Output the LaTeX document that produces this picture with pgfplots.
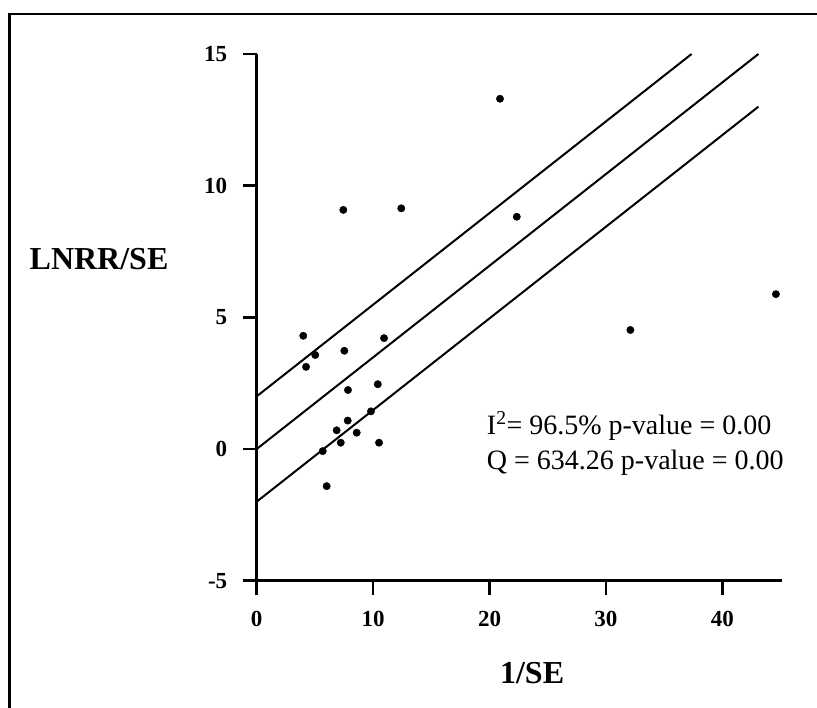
\documentclass[border=0pt]{standalone}
\usepackage{fontspec}
\setmainfont{Liberation Serif}
\usepackage{pgfplots}
\pgfplotsset{compat=1.18}
\begin{document}
\begin{tikzpicture}[x=1pt,y=1pt]
\useasboundingbox (0,0) rectangle (817,708);
\draw[line width=2.8pt] (9.7,0) -- (9.7,694) -- (817,694);
\begin{axis}[
 at={(256.7pt,127.3pt)}, anchor=south west,
 scale only axis, width=525.6pt, height=526.7pt,
 xmin=0, xmax=45.15, ymin=-5, ymax=15,
 axis x line=bottom, axis y line=left,
 axis line style={line width=2.6pt, -},
 tick style={line width=2.6pt, black},
 tick align=outside, tickwidth=14pt,
 xtick={0,10,20,30,40}, xticklabels={0,10,20,30,40},
 ytick={-5,0,5,10,15}, yticklabels={-5,0,5,10,15},
 tick label style={font=\fontsize{23}{26}\selectfont\bfseries},
 xticklabel style={yshift=-13pt},
 yticklabel style={xshift=-12pt},
 clip=false,
 xlabel={1/SE}, ylabel={LNRR/SE},
 every axis x label/.style={at={(axis description cs:0.524,-0.176)}, anchor=center, font=\fontsize{32}{38}\selectfont\bfseries},
 every axis y label/.style={at={(axis description cs:-0.300,0.611)}, anchor=center, font=\fontsize{32}{38}\selectfont\bfseries},
]
\addplot[only marks, mark=*, mark size=3.7pt, black] coordinates {
(4.0,4.30) (5.03,3.57) (4.24,3.12) (7.53,3.73) (10.94,4.21)
(7.84,2.24) (10.40,2.46) (9.82,1.43) (7.82,1.08) (6.87,0.71)
(8.59,0.62) (7.22,0.24) (10.51,0.24) (5.67,-0.08) (6.01,-1.41)
(7.44,9.08) (12.42,9.14) (20.9,13.30) (22.34,8.82) (32.1,4.52) (44.6,5.88)
};
\addplot[black, line width=2pt] coordinates {(0,2) (37.36,15)};
\addplot[black, line width=2pt] coordinates {(0,0) (43.1,15)};
\addplot[black, line width=2pt] coordinates {(0,-2) (43.1,13)};
\node[anchor=base west, font=\fontsize{28}{34}\selectfont, inner sep=0pt] at (axis cs:19.76,0.57) {I\textsuperscript{2}= 96.5\% p-value = 0.00};
\node[anchor=base west, font=\fontsize{28}{34}\selectfont, inner sep=0pt] at (axis cs:19.76,-0.76) {Q = 634.26 p-value = 0.00};
\end{axis}
\end{tikzpicture}
\end{document}
